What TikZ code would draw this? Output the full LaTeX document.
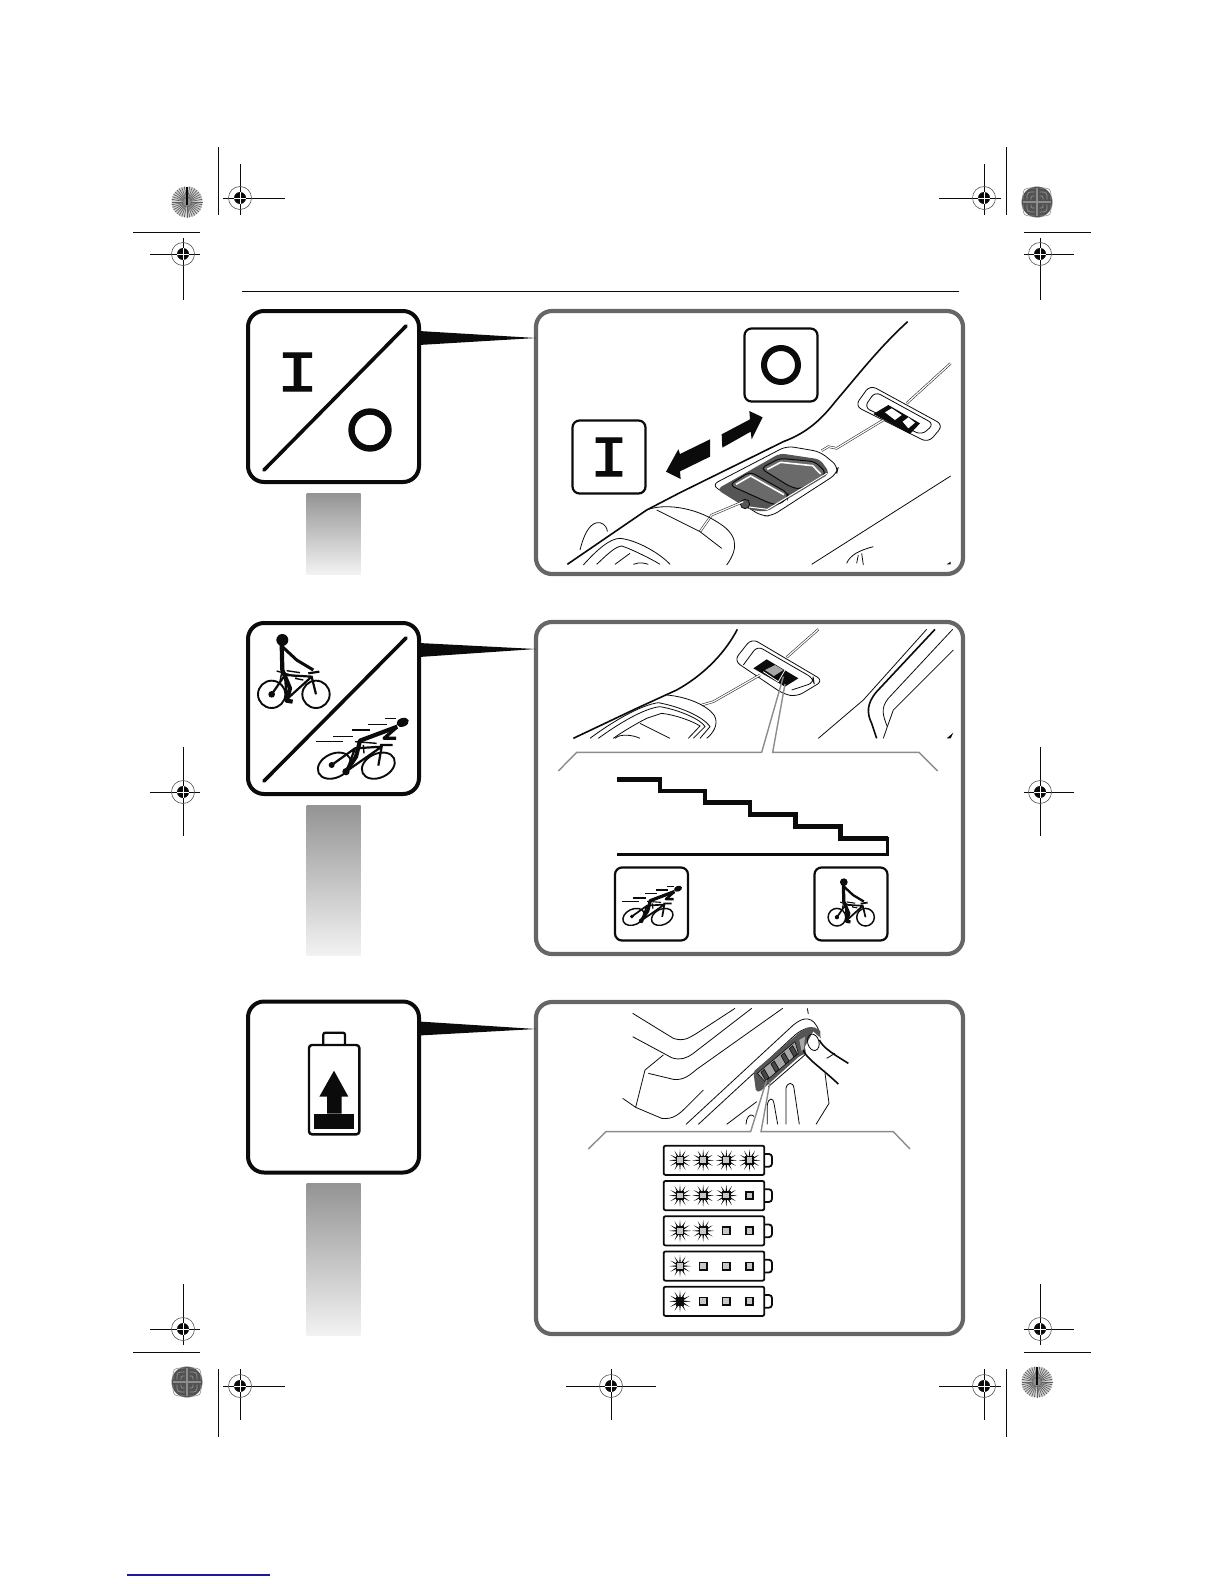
\documentclass[tikz,border=0pt]{standalone}
\usepackage{fontspec}
\usepackage{graphicx}
\usetikzlibrary{arrows.meta,positioning,calc}
\newfontfamily\iofont[FakeBold=2]{Liberation Mono}
\definecolor{ink}{HTML}{0B0B0B}
\definecolor{framegray}{HTML}{666666}
\definecolor{calloutgray}{HTML}{8C8C8C}
\definecolor{platedark}{HTML}{555555}
\definecolor{keydark}{HTML}{6A6A6A}
\definecolor{linkblue}{HTML}{1A1A9A}
\tikzset{
  iconbox/.style={draw=ink, fill=white, line width=2pt, rounded corners=8pt, minimum width=85.5pt, minimum height=85.5pt, inner sep=0pt, outer sep=0pt},
  smallbox/.style={draw=ink, fill=white, line width=1.1pt, rounded corners=3.5pt, minimum width=36.5pt, minimum height=36.5pt, inner sep=0pt, outer sep=0pt},
  panelbox/.style={draw=framegray, fill=white, line width=2.1pt, rounded corners=8pt, minimum width=213.5pt, inner sep=0pt, outer sep=0pt},
  fadebar/.style={top color=black!42, bottom color=black!5, minimum width=27pt, inner sep=0pt, outer sep=0pt},
  isign/.style={font=\iofont\fontsize{29}{29}\selectfont, text=ink, inner sep=0pt},
  trim/.style={draw=ink, line width=.5pt},
  fine/.style={draw=ink, line width=.4pt},
  heavy/.style={draw=ink, line width=.8pt},
  callout/.style={draw=calloutgray, line width=.7pt},
  wirepair/.style={draw=ink!85, line width=.3pt, double=white, double distance=.6pt},
}
% page marks
\newcommand{\regmark}[6]{
  \draw[trim] ({#1-#3},#2) -- ({#1+#4},#2);
  \draw[trim] (#1,{#2-#5}) -- (#1,{#2+#6});
  \draw[draw=ink!70, line width=.3pt] (#1,#2) circle (11.5);
  \fill[ink] (#1,#2) circle (6);
  \draw[white, line width=.4pt] ({#1-6},#2) -- ({#1+6},#2) (#1,{#2-6}) -- (#1,{#2+6});
}
\newcommand{\spokedisc}[2]{
  \fill[black!18] (#1,#2) circle (15.5);
  \foreach \a in {0,10,...,350}
    \draw[ink!65, line width=.35pt] (#1,#2) -- ++(\a:15.5);
  \fill[black!45] (#1,#2) circle (4);
  \draw[ink, line width=.6pt] (#1,{#2-15}) -- (#1,{#2+3});
}
\newcommand{\tiledisc}[2]{
  \fill[black!68] (#1,#2) circle (15.5);
  \foreach \r in {6,10,14}
    \foreach \sx/\sy in {1/1,1/-1,-1/1,-1/-1}
      \draw[black!42, line width=.35pt] ({#1+\sx*2.5},{#2+\sy*\r}) .. controls ({#1+\sx*\r},{#2+\sy*\r}) .. ({#1+\sx*\r},{#2+\sy*2.5});
  \draw[black!45, line width=.7pt] ({#1-14},#2) -- ({#1+14},#2) (#1,{#2-14}) -- (#1,{#2+14});
}
% riders, in the units of the large icon
\newcommand{\slowbike}[3]{
  \begin{scope}[shift={(#1,#2)},scale=#3/3]
    \pgfmathsetmacro{\lw}{.35+.65*#3}
    \fill[ink] (127,90) circle (18);
    \draw[ink, line width=\lw*2.1pt, line join=round] (125,100) -- (127,180) -- (150,235) -- (140,272) -- (158,275);
    \draw[ink, line width=\lw*1.5pt, line join=round] (127,110) -- (170,150) -- (220,180);
    \draw[ink, line width=\lw*.95pt] (95,253) circle (41) (228,253) circle (41);
    \draw[ink, line width=\lw*1.1pt] (95,253) -- (135,195) -- (215,200) -- (228,253) (140,268) -- (215,200) (135,195) -- (140,268) (205,190) -- (238,185);
    \draw[ink, line width=\lw*.7pt] (110,183) -- (170,200) (140,182) -- (180,188) (125,188) -- (120,215) (165,205) -- (190,210);
    \fill[ink] (95,253) circle (10);
  \end{scope}
}
\newcommand{\fastbike}[3]{
  \begin{scope}[shift={(#1,#2)},scale=#3/3]
    \pgfmathsetmacro{\lw}{.35+.65*#3}
    \fill[ink, rotate around={20:(488,337)}] (488,337) ellipse (19 and 13);
    \draw[ink, line width=\lw*2.1pt, line join=round] (472,350) -- (360,392) -- (348,440) -- (318,485);
    \draw[ink, line width=\lw*1.6pt, line join=round] (470,352) -- (432,385) -- (468,385);
    \foreach \xa/\xb/\yy in {435/468/325,385/440/343,335/390/360,280/340/380,228/310/395}
      \draw[ink, line width=\lw*.75pt] (\xa,\yy) -- (\xb,\yy);
    \draw[ink, line width=\lw*.95pt, rotate around={25:(283,467)}] (283,467) ellipse (52 and 36);
    \draw[ink, line width=\lw*.95pt, rotate around={25:(415,467)}] (415,467) ellipse (52 and 36);
    \draw[ink, line width=\lw*1.1pt] (275,465) -- (345,415) -- (425,410) -- (415,467) (320,483) -- (425,410) (345,415) -- (320,483) (420,405) -- (458,405);
    \draw[ink, line width=\lw*.7pt] (345,395) -- (410,400) (370,405) -- (372,430);
    \fill[ink] (318,485) circle (11) (275,465) circle (9);
  \end{scope}
}
% one lit lamp on a charge row
\newcommand{\lamp}[3]{
  \foreach \a in {0,30,...,330}
    \fill[ink] ($(#1,#2)+(\a-14:10)$) -- ($(#1,#2)+(\a:33)$) -- ($(#1,#2)+(\a+14:10)$) -- cycle;
  \draw[ink, line width=.8pt, fill=#3] ({#1-11},{#2-11}) rectangle ({#1+11},{#2+11});
}
\begin{document}
\begin{tikzpicture}[x=.5pt,y=-.5pt]
  \useasboundingbox (0,0) rectangle (1224,1584);

  % page marks
  \foreach \mx/\my/\ml/\mr/\mu/\md in {240/198/17/45/34/17, 183/254/33/17/16/46, 984/198/45/17/34/17, 1040/254/16/34/16/46, 183/792/33/17/45/44, 1040/792/16/34/45/44, 183/1329/33/17/45/16, 1040/1329/16/34/45/16, 240/1386/17/45/17/34, 611/1386/45/45/17/34, 984/1386/45/17/17/34}
    {\regmark{\mx}{\my}{\ml}{\mr}{\mu}{\md}}
  \draw[trim] (218,147) -- (218,215) (133,232) -- (200,232);
  \draw[trim] (1006,147) -- (1006,215) (1024,232) -- (1091,232);
  \draw[trim] (133,1352) -- (200,1352) (218,1369) -- (218,1437);
  \draw[trim] (1024,1352) -- (1091,1352) (1006,1369) -- (1006,1437);
  \spokedisc{187}{202}
  \tiledisc{1037}{202}
  \tiledisc{187}{1382}
  \spokedisc{1037}{1382}
  \draw[ink, line width=.5pt] (242,291) -- (959,291);
  \draw[linkblue, line width=.6pt] (127,1575) -- (270,1575);

  % left icons and their fading bars
  \node[iconbox] (ioicon) at (333.5,396.5) {};
  \node[iconbox] (speedicon) at (333.5,708.5) {};
  \node[iconbox] (batticon) at (333.5,1087) {};
  \node[fadebar, minimum height=40.5pt, below=5.5pt of ioicon] (iobar) {};
  \node[fadebar, minimum height=75pt, below=5.5pt of speedicon] (speedbar) {};
  \node[fadebar, minimum height=76pt, below=5.5pt of batticon] (battbar) {};

  % right panels
  \node[panelbox, minimum height=131.5pt] (iopanel) at (749.5,442.5) {};
  \node[panelbox, minimum height=166pt] (speedpanel) at (749.5,788) {};
  \node[panelbox, minimum height=166pt] (battpanel) at (749.5,1168) {};
  \foreach \n in {io,speed,batt}
    \fill[ink] ([yshift=-10pt]\n icon.north east) -- ([yshift=-17pt]\n icon.north east) -- ([yshift=-13.5pt]\n panel.north west) -- cycle;

  % on/off icon
  \draw[ink, line width=1.8pt, line cap=round] (264,470) -- (406,326);
  \node[isign] (ionsign) at (297.5,372) {\scalebox{1.2}[1]{I}};
  \draw[ink, line width=3.2pt] (370,430) circle (18.5);

  % speed icon
  \draw[ink, line width=1.8pt, line cap=round] (264,781) -- (406,638);
  \slowbike{240}{610}{1}
  \fastbike{240}{610}{1}

  % battery icon
  \begin{scope}[shift={(240,990)},scale=1/3]
    \draw[ink, line width=1.1pt, rounded corners=1pt] (250,165) -- (250,128) -- (315,128) -- (315,165);
    \draw[ink, line width=1.2pt, rounded corners=1.5pt] (207,165) rectangle (358,433);
    \fill[ink] (222,371) rectangle (343,418);
    \fill[ink] (261,371) -- (261,320) -- (238,320) -- (282,242) -- (325,320) -- (305,320) -- (305,371) -- cycle;
  \end{scope}

  % first panel
  \node[smallbox] (offbox) at (781,365) {};
  \node[smallbox] (onbox) at (609,457) {};
  \draw[ink, line width=3pt] (offbox.center) circle (17);
  \node[isign] (onsign) at (onbox) {\scalebox{1.1}[1]{I}};
  \begin{scope}[shift={(530,300)},scale=1/3]
    \fill[ink] (575,403) -- (660,358) -- (658,333) -- (698,352) -- (665,418) -- (662,395) -- (577,443) -- cycle;
    \fill[ink] (540,418) -- (540,470) -- (450,514) -- (452,537) -- (408,515) -- (445,448) -- (450,462) -- cycle;
    \draw[heavy] (1133,65) .. controls (1050,140) and (980,230) .. (920,300) .. controls (880,350) and (840,395) .. (760,425) -- (450,578) -- (350,630) -- (112,793);
    \draw[fine] (1262,528) -- (845,793);
    % right switch housing
    \draw[fine, rounded corners=3.5pt] (975,318) -- (1020,255) -- (1240,375) -- (1195,428) -- cycle;
    \draw[fine, rounded corners=3pt] (1003,322) -- (1035,275) -- (1212,372) -- (1175,405) -- cycle;
    \fill[ink] (1030,342) -- (1075,315) -- (1170,370) -- (1140,402) -- cycle;
    \fill[white] (1065,337) -- (1085,325) -- (1115,345) -- (1095,360) -- cycle (1118,365) -- (1135,352) -- (1155,368) -- (1135,385) -- cycle;
    \draw[wirepair] (1130,310) -- (1262,190);
    \draw[wirepair] (875,452) -- (895,440) -- (920,445) -- (1060,360);
    % middle housing
    \draw[fine, rounded corners=3.5pt] (545,555) -- (770,438) -- (870,455) -- (925,500) -- (920,522) -- (725,648) -- (695,648) -- cycle;
    \fill[platedark, rounded corners=2.5pt] (560,568) -- (750,460) -- (870,478) -- (900,520) -- (710,635) -- (660,630) -- cycle;
    \draw[ink, fill=keydark, line width=.5pt, rounded corners=2.5pt] (692,505) -- (750,475) -- (855,485) -- (890,520) -- (810,568) -- (780,560) -- cycle;
    \draw[ink, fill=keydark, line width=.5pt, rounded corners=2.5pt] (598,555) -- (660,515) -- (775,580) -- (772,595) -- (745,615) -- (720,610) -- cycle;
    \draw[white, line width=.8pt] (712,508) -- (752,487) -- (848,497) -- (872,522);
    \draw[white, line width=.8pt] (618,553) -- (662,528) -- (762,584);
    \draw[white, line width=.5pt] (650,620) -- (712,628) -- (890,520);
    \draw[fine, fill=platedark] (645,612) circle (14);
    \draw[wirepair] (640,605) -- (545,645) -- (510,695);
    % handle and grip
    \draw[fine] (350,630) .. controls (400,610) and (490,620) .. (560,665) .. controls (620,700) and (630,740) .. (590,795);
    \draw[fine] (380,630) -- (510,695) -- (575,745);
    \draw[fine] (150,750) .. controls (165,690) and (185,665) .. (210,668) .. controls (225,672) and (232,685) .. (232,695);
    \draw[fine] (160,795) .. controls (200,750) and (240,715) .. (270,715) .. controls (320,720) and (390,760) .. (420,793);
    \draw[fine] (200,793) .. controls (230,765) and (255,740) .. (275,738) .. controls (300,745) and (370,780) .. (390,793);
    \draw[fine] (255,793) -- (300,760) (310,793) .. controls (330,785) and (345,790) .. (355,793);
    \draw[fine] (950,790) .. controls (960,765) and (990,750) .. (1030,740) (995,760) -- (1000,795) (985,765) -- (980,790);
    \fill[ink] (1250,793) -- (1262,785) -- (1262,793) -- cycle;
  \end{scope}

  % second panel
  \begin{scope}[shift={(530,610)},scale=1/3]
    \draw[heavy] (622,58) .. controls (590,120) and (530,190) .. (440,240) -- (320,295) -- (130,385);
    \draw[fine, rounded corners=3.5pt] (612,152) -- (665,85) -- (880,212) -- (800,260) -- (760,252) -- cycle;
    \draw[fine, rounded corners=3pt] (640,165) -- (682,108) -- (850,205) -- (852,218) -- (785,240);
    \fill[ink] (670,175) -- (710,148) -- (805,205) -- (765,230) -- cycle;
    \fill[black!35] (705,180) -- (735,165) -- (760,180) -- (732,198) -- cycle;
    \draw[white, line width=.4pt] (700,185) -- (745,215) -- (765,180);
    \draw[wirepair] (770,142) -- (865,58);
    \draw[wirepair] (515,285) -- (550,275) -- (690,195);
    % grip on the left
    \draw[fine] (410,255) .. controls (470,260) and (530,285) .. (552,315) .. controls (568,340) and (550,370) .. (530,385);
    \draw[fine] (180,385) .. controls (240,340) and (330,285) .. (385,278) .. controls (450,290) and (520,320) .. (540,350) -- (510,385);
    \draw[fine] (205,385) .. controls (260,345) and (340,295) .. (390,290) .. controls (450,300) and (515,330) .. (525,350) -- (490,385);
    \draw[fine] (250,385) .. controls (270,370) and (320,340) .. (350,325) -- (395,310) .. controls (440,315) and (490,335) .. (510,348) -- (475,385);
    \draw[fine] (330,340) -- (420,385) (255,385) .. controls (270,370) and (310,375) .. (330,385);
    % body on the right
    \draw[fine] (865,385) -- (1000,270) -- (1190,58);
    \draw[heavy] (1215,58) -- (1040,245) .. controls (1010,280) and (1010,310) .. (1025,340) -- (1040,385);
    \draw[fine] (1268,58) -- (1075,265) .. controls (1050,295) and (1060,320) .. (1072,350);
    \draw[fine] (1270,120) -- (1090,300) -- (1072,350) -- (1060,385);
    \fill[ink] (1250,385) -- (1270,368) -- (1262,385) -- cycle;
    % callout bracket
    \draw[callout] (85,483) -- (140,427) -- (695,427) -- (760,200);
    \draw[callout] (1223,483) -- (1167,427) -- (728,427) -- (765,222);
    % stairs
    \draw[ink, line width=2.3pt, line join=miter] (260,508) -- (390,508) -- (390,543) -- (525,543) -- (525,578) -- (660,578) -- (660,614) -- (797,614) -- (797,650) -- (932,650) -- (932,686) -- (1073,686);
    \draw[ink, line width=1.4pt] (1073,681) -- (1073,733) -- (260,733);
  \end{scope}
  \node[smallbox] (fastbox) at (651.5,904) {};
  \node[smallbox] (slowbox) at (851,904) {};
  \fastbike{572.3}{815.7}{.65}
  \slowbike{816.5}{862.8}{.645}

  % third panel
  \begin{scope}[shift={(530,990)},scale=1/3]
    \draw[fine] (308,70) -- (430,145) .. controls (460,155) and (475,145) .. (500,130) -- (615,55);
    \draw[fine] (308,140) -- (425,203) .. controls (450,212) and (470,205) .. (490,190) -- (665,55);
    \draw[fine] (400,195) -- (345,240) -- (317,352) (278,325) -- (317,352) -- (395,385) .. controls (430,390) and (450,370) .. (470,350) -- (520,300);
    \draw[fine] (355,250) -- (430,268) .. controls (460,272) and (480,255) .. (500,238) -- (758,55);
    \draw[fine] (468,403) -- (790,105) .. controls (820,80) and (850,75) .. (868,125) -- (872,155);
    \draw[fine] (505,403) -- (795,135) .. controls (820,115) and (840,110) .. (858,115);
    \draw[fine] (590,403) -- (680,335) (715,290) -- (830,190);
    \draw[fine] (832,55) -- (835,72);
    % display plate
    \fill[platedark, rounded corners=1pt] (670,245) -- (808,128) -- (835,110) -- (870,118) -- (872,135) -- (830,190) -- (810,197) -- (690,305) -- (678,305) -- cycle;
    \draw[ink, fill=black!35, line width=.3pt] (682,250) -- (795,155) -- (805,190) -- (705,275) -- cycle;
    \fill[black!35] (808,150) -- (825,140) -- (822,175) -- (815,185) -- cycle;
    \foreach \cx/\cy in {705/255,735/230,765/205,790/184}
      \draw[ink, fill=black!72, line width=.3pt] (\cx-12,\cy-8) -- (\cx-2,\cy-17) -- (\cx+12,\cy+8) -- (\cx+2,\cy+17) -- cycle;
    % finger
    \fill[white] (825,170) -- (850,125) -- (955,220) -- (925,282) -- (830,205) -- cycle;
    \draw[heavy] (820,180) .. controls (828,205) and (870,230) .. (925,282);
    \draw[heavy] (868,150) .. controls (880,175) and (915,195) .. (955,220);
    \draw[fine, rotate around={15:(850,157)}] (850,157) ellipse (17 and 25);
    \draw[fine] (890,205) -- (915,190);
    % ribs
    \draw[fine] (885,250) -- (897,340) -- (858,403);
    \draw[fine] (768,403) -- (768,295) .. controls (772,275) and (790,275) .. (792,295) -- (808,403);
    \draw[fine] (712,403) -- (712,345) .. controls (715,322) and (730,322) .. (732,340) -- (743,403);
    \draw[fine] (648,403) -- (650,390) .. controls (655,372) and (668,372) .. (672,380);
    % callout bracket
    \draw[callout] (175,477) -- (228,425) -- (662,425) -- (710,270);
    \draw[callout] (1140,477) -- (1090,425) -- (693,425) -- (720,275);
    % charge rows
    \foreach \r/\lit/\core in {0/4/black!22,1/3/black!22,2/2/black!22,3/1/black!22,4/1/ink}{
      \pgfmathsetmacro{\top}{467+105.75*\r}
      \draw[ink, line width=.9pt, rounded corners=1pt] (401,\top) rectangle (703,\top+88);
      \draw[ink, line width=.9pt, rounded corners=1.5pt] (703,\top+25) -- (726,\top+25) -- (726,\top+63) -- (703,\top+63);
      \foreach \k in {0,1,2,3}{
        \pgfmathsetmacro{\lx}{450+69.5*\k}
        \pgfmathtruncatemacro{\on}{\k<\lit ? 1 : 0}
        \ifnum\on=1
          \lamp{\lx}{\top+44}{\core}
        \else
          \draw[ink, line width=.8pt, fill=black!22] (\lx-11,\top+33) rectangle (\lx+11,\top+55);
        \fi
      }
    }
  \end{scope}
\end{tikzpicture}
\end{document}
